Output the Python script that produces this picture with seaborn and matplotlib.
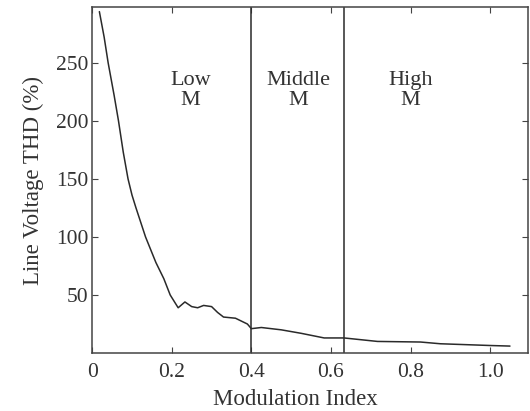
import numpy as np
import pandas as pd
import matplotlib
matplotlib.use('Agg')
import matplotlib.pyplot as plt
import seaborn as sns

# values
mod_index = [0.018, 0.03, 0.04, 0.055, 0.066, 0.078, 0.09, 0.10, 0.11, 0.134, 0.16, 0.18,
             0.196, 0.216, 0.233, 0.25, 0.265, 0.28, 0.30, 0.315, 0.33, 0.36, 0.39,
             0.40, 0.425, 0.475, 0.525, 0.583, 0.633, 0.717, 0.825, 0.875, 1.0, 1.05]
thd = [294, 272, 250, 222, 200, 173, 150, 136, 125, 100, 78, 64,
       50, 39, 44, 40, 39, 41, 40, 35, 31, 30, 25,
       21, 22, 20, 17, 13, 13, 10, 9.5, 8, 6.5, 6]
region_bounds = [0.4, 0.633]
region_labels = ['Low\nM', 'Middle\nM', 'High\nM']
region_label_x = [0.2475, 0.519, 0.80]
xticks = [0, 0.2, 0.4, 0.6, 0.8, 1.0]
xtick_labels = ['0', '0.2', '0.4', '0.6', '0.8', '1.0']
yticks = [50, 100, 150, 200, 250]

df = pd.DataFrame({'Modulation Index': mod_index, 'THD': thd})

sns.set_style('ticks')
plt.rcParams['font.family'] = ['Liberation Serif', 'DejaVu Serif']

fig = plt.figure(figsize=(5.3, 4.11), dpi=100)
ax = fig.add_axes([0.174, 0.141, 0.822, 0.842])

sns.lineplot(data=df, x='Modulation Index', y='THD', color='#2a2a2a', linewidth=1.1, ax=ax)

for b in region_bounds:
    ax.axvline(b, color='#2a2a2a', linewidth=1.1)

for lx, lab in zip(region_label_x, region_labels):
    ax.text(lx, 226, lab, ha='center', va='center', fontsize=16, color='#333333', linespacing=1.12)

ax.set_xlim(0, 1.095)
ax.set_ylim(0, 298)
ax.set_xticks(xticks)
ax.set_xticklabels(xtick_labels)
ax.set_yticks(yticks)
ax.tick_params(direction='in', length=4, top=True, right=True, labelsize=15.5,
               colors='#444444', labelcolor='#333333')
ax.tick_params(axis='x', pad=7)
ax.tick_params(axis='y', pad=3)
for s in ax.spines.values():
    s.set_visible(True)
    s.set_color('#444444')
    s.set_linewidth(1.1)

ax.set_xlabel('Modulation Index', fontsize=16.5, color='#333333')
ax.set_ylabel('Line Voltage THD (%)', fontsize=16.5, color='#333333', labelpad=8)
# x label sits a little left of the axes centre in the reference
ax.xaxis.set_label_coords(0.466, -0.104)

fig.savefig('out.png', dpi=100)
